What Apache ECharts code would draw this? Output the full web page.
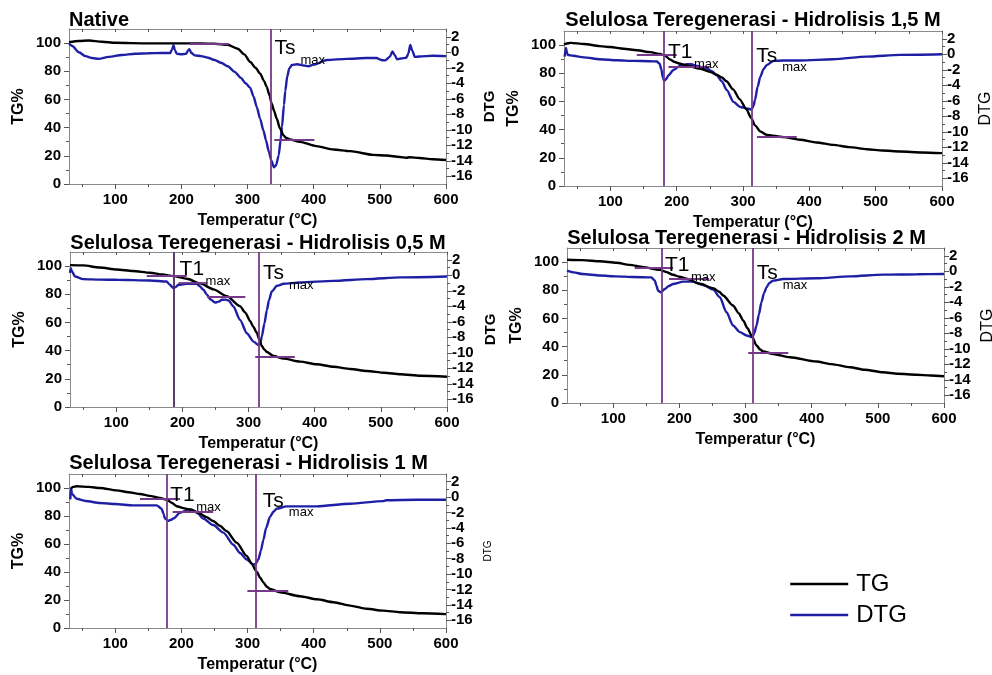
<!DOCTYPE html>
<html>
<head>
<meta charset="utf-8">
<script src="https://cdn.jsdelivr.net/npm/echarts@6/dist/echarts.min.js"></script>
<style>
  html, body { margin: 0; padding: 0; background: #fff; }
  #chart { width: 992px; height: 675px; }
</style>
</head>
<body>
<div id="chart"></div>
<script>
// ---------- Native cellulose ----------
const nativeTemp = [30, 45, 60, 80, 100, 150, 200, 230, 250, 270, 285, 295, 304, 312, 319, 325, 329, 333, 336.4, 340, 344, 349, 354, 358, 364, 379, 404, 430, 455, 490, 510, 530, 540, 545, 560, 580, 600];
const nativeTG = [100.7, 101.5, 101.8, 101, 100.2, 99.8, 99.8, 99.8, 99.5, 98.8, 96, 92, 86.6, 82.5, 78.3, 73, 68.9, 63, 57.1, 52, 46.5, 39.4, 34.7, 32.8, 31.6, 29.9, 26.9, 24.5, 23.3, 20.7, 20.2, 19.2, 18.6, 19, 18.4, 17.6, 17];
const nativeDtgTemp = [30, 35, 45, 55, 65, 75, 90, 110, 130, 150, 170, 183, 186, 188, 190, 193, 200, 207, 210, 212, 215, 220, 230, 240, 250, 260, 270, 280, 290, 297, 304, 309, 314, 319, 324, 328, 332, 336, 340, 343, 347, 350, 352, 355, 357, 360, 363, 367, 375, 385, 392, 400, 420, 450, 480, 495, 502, 508, 515, 519, 522, 526, 532, 540, 543, 546, 549, 553, 560, 580, 600];
const nativeDTG = [1.1, 0.8, 0.0, -0.5, -0.75, -0.85, -0.6, -0.35, -0.2, -0.12, -0.1, -0.1, 0.4, 0.9, 0.3, -0.2, -0.25, -0.2, 0.2, 0.4, -0.1, -0.4, -0.5, -0.7, -1.0, -1.35, -1.8, -2.5, -3.3, -4.0, -4.6, -5.7, -7.1, -8.6, -10.1, -11.4, -12.8, -14.0, -14.85, -14.6, -13.3, -11.3, -9.6, -6.8, -5.0, -3.1, -2.1, -1.65, -1.55, -1.7, -1.8, -1.6, -1.0, -0.85, -0.75, -0.75, -1.0, -1.05, -0.6, 0.1, -0.3, -0.9, -0.8, -0.7, -0.2, 0.95, 0.2, -0.6, -0.55, -0.45, -0.5];
const nativePeaks = [{ name: 'Ts', temp: 335.2 }];
const nativeTangents = [[213, 272, 99.8], [340.5, 401, 31.1]];

// ---------- Regenerated, hydrolysis 1,5 M ----------
const h15Temp = [30, 33, 40, 60, 84, 100, 120, 140, 160, 175, 182, 190, 197, 205, 215, 235, 250, 260, 268, 275, 285, 295, 305, 312, 318, 326, 336, 361, 386, 411, 436, 460, 487, 510, 537, 570, 600];
const h15TG = [100.5, 101, 101.6, 100.8, 99.3, 98.6, 97.4, 96.3, 95, 93.7, 92.6, 89.8, 88, 86.8, 85.5, 83.4, 81, 79, 77, 74.3, 68.6, 61.5, 54.5, 48.5, 43, 38.7, 36.3, 34.7, 32.8, 30.9, 29.2, 27.6, 26.1, 25.2, 24.5, 23.8, 23.3];
const h15DtgTemp = [31, 33, 34.5, 36, 44, 60, 84, 110, 135, 160, 170, 174, 177, 179, 181, 184, 188, 195, 205, 215, 222, 230, 245, 253, 260, 268, 275.5, 285.5, 295.6, 305.7, 313, 316, 318, 322, 326, 331, 336, 346, 361, 386, 436, 487, 537, 600];
const h15DTG = [-0.3, 0.8, 0.2, -0.1, -0.2, -0.4, -0.64, -0.78, -0.86, -0.9, -0.94, -1.2, -2.0, -3.0, -3.45, -3.2, -2.68, -2.03, -1.5, -1.29, -1.3, -1.5, -1.81, -2.2, -2.68, -3.5, -4.62, -6.14, -6.8, -7.0, -7.13, -6.6, -5.9, -4.2, -2.9, -1.9, -1.38, -0.86, -0.81, -0.81, -0.64, -0.3, -0.08, 0];
const h15Peaks = [{ name: 'T1', temp: 180 }, { name: 'Ts', temp: 313.2 }];
const h15Tangents = [[139.7, 200, 93.3], [187.5, 249, 84.3], [321, 381, 35.2]];

// ---------- Regenerated, hydrolysis 0,5 M ----------
const h05Temp = [30, 50, 75, 100.6, 125, 151, 170, 186.4, 206.6, 226.8, 247, 267, 287, 295, 302.4, 307, 312.5, 316, 320, 324, 327.7, 337.8, 353, 378, 403, 428.6, 454, 479, 505, 529.5, 560, 600];
const h05TG = [100.7, 100.5, 99, 97.6, 96.5, 95.3, 94, 92.9, 91, 87.7, 83.5, 78.7, 71.6, 67, 61, 57, 52.7, 48, 43.3, 40.7, 39, 36.2, 34.3, 32.2, 30.3, 28.6, 27, 25.5, 24.3, 23.2, 22.2, 21.5];
const h05DtgTemp = [30, 31, 33, 37.6, 50, 75, 100.6, 151, 176, 181, 186.4, 190, 194, 206.6, 221.7, 226, 231.8, 237, 242, 249.5, 255, 259.6, 265, 270, 277, 287, 297.4, 307.5, 315, 318, 320, 324, 327.7, 331, 335, 343, 353, 378, 428.6, 479, 529.5, 600];
const h05DTG = [0.3, 0.9, 0.5, -0.16, -0.5, -0.57, -0.59, -0.67, -0.8, -1.23, -1.66, -1.5, -1.23, -1.1, -1.1, -1.4, -1.88, -2.5, -3.09, -3.52, -3.4, -3.17, -3.15, -3.26, -4.03, -5.76, -7.48, -8.56, -9.0, -8.7, -7.9, -6.2, -4.47, -3.2, -2.1, -1.36, -1.1, -0.93, -0.72, -0.5, -0.28, -0.16];
const h05Peaks = [{ name: 'T1', temp: 187.4 }, { name: 'Ts', temp: 315 }];
const h05Tangents = [[146, 206.6, 93.4], [194, 237, 88.2], [237, 295, 78.3], [310, 370, 35.5]];

// ---------- Regenerated, hydrolysis 2 M ----------
const h2Temp = [30, 54, 80, 104.7, 125, 145, 170, 180, 190.4, 200, 210.6, 230.8, 251, 260, 266, 281, 290, 296.4, 303, 309, 316.6, 322, 326.7, 341.8, 367, 407, 430, 458, 480, 508, 530, 559, 580, 600];
const h2TG = [101.7, 101.4, 100.6, 99.5, 98, 96.4, 94.5, 93, 91, 89.6, 88.2, 84.6, 81.5, 79, 76.3, 69.2, 63.5, 58.5, 53, 47.9, 40.8, 38, 36.5, 34.8, 32.5, 29.4, 27.6, 25.4, 23.6, 21.8, 20.8, 20.1, 19.5, 19];
const h2DtgTemp = [30, 40, 54, 80, 104.7, 130, 157.6, 162.7, 165, 167.7, 171.8, 177.8, 184, 190.4, 205.6, 220.7, 235.9, 251, 261, 271.2, 281, 291.4, 301.4, 310.5, 313, 316.6, 320, 324, 328, 331.7, 336, 341.8, 357, 407, 458, 508, 560, 600];
const h2DTG = [0.07, -0.15, -0.36, -0.55, -0.66, -0.74, -0.79, -1.2, -1.8, -2.5, -2.71, -2.29, -1.9, -1.64, -1.34, -1.34, -1.77, -2.37, -3.36, -5.29, -7.0, -7.86, -8.29, -8.5, -8.0, -7.0, -5.6, -4.0, -2.8, -2.07, -1.5, -1.21, -1.0, -0.91, -0.66, -0.44, -0.38, -0.36];
const h2Peaks = [{ name: 'T1', temp: 172.8 }, { name: 'Ts', temp: 310.5 }];
const h2Tangents = [[132.4, 190.4, 95.7], [184.4, 245, 88.2], [304, 364.5, 36]];

// ---------- Regenerated, hydrolysis 1 M ----------
const h1Temp = [33, 36, 41.6, 60, 77, 102, 120, 137.4, 152, 167.6, 177.7, 185, 192.8, 203, 213, 228, 238, 248, 258, 268, 283.5, 298.7, 306, 313.8, 319, 323.9, 329, 334, 349, 379.3, 405, 430, 455, 480, 505, 530.5, 565, 600];
const h1TG = [99.5, 100.8, 101.2, 100.8, 100, 98.3, 97, 95.7, 94.4, 92.9, 91.7, 89.5, 87, 85.6, 84.6, 81.6, 79.2, 76.4, 73, 69.3, 61, 51.5, 46, 40.2, 36, 32.6, 29.5, 27.9, 25.5, 22.7, 20.5, 18.4, 16, 13.7, 12.4, 11.3, 10.5, 9.9];
const h1DtgTemp = [32, 33, 34.5, 41.6, 55, 77, 100, 127, 162.6, 170, 173, 175, 180, 184, 187.8, 197.8, 210, 215, 223, 233, 248, 263.4, 278.5, 288.6, 298.7, 308.7, 312, 316.3, 320, 323.9, 328, 334, 339, 344, 359, 404.5, 455, 505, 510, 555.7, 600];
const h1DTG = [-0.3, 1.2, 0.42, -0.22, -0.5, -0.77, -0.9, -1.07, -1.07, -1.5, -2.2, -2.78, -3.08, -2.95, -2.78, -2.05, -1.63, -1.65, -1.92, -2.78, -3.63, -4.61, -6.19, -7.26, -8.1, -8.75, -8.7, -8.1, -7.0, -5.55, -4.0, -2.56, -1.9, -1.5, -1.2, -1.2, -0.86, -0.52, -0.4, -0.35, -0.35];
const h1Peaks = [{ name: 'T1', temp: 177.7 }, { name: 'Ts', temp: 312.3 }];
const h1Tangents = [[137.4, 197.8, 92.4], [186.8, 248, 82.7], [299.7, 361.6, 26.7]];

// ---------- Axis ticks ----------
const tempTicks = [100, 200, 300, 400, 500, 600];
const tempMinorTicks = [50, 150, 250, 350, 450, 550];
const tgTicks = [0, 20, 40, 60, 80, 100];
const tgMinorTicks = [10, 30, 50, 70, 90];
const dtgTicks = [-16, -14, -12, -10, -8, -6, -4, -2, 0, 2];
const dtgMinorTicks = [-15, -13, -11, -9, -7, -5, -3, -1, 1];

// ---------- Styles ----------
const FONT = 'Liberation Sans, Arial, Helvetica, sans-serif';
const AXIS_GRAY = '#8a8a8a';
const TICK_COLOR = '#555';
const TG_COLOR = '#000000';
const DTG_COLOR = '#1f1fa6';
const MARK_COLOR = '#76398a';

const panels = [
  { title: 'Native', tgT: nativeTemp, tg: nativeTG, dtgT: nativeDtgTemp, dtg: nativeDTG,
    peaks: nativePeaks, tangents: nativeTangents,
    labelAt: { Ts: [341.5, 91.3] },
    grid: { left: 69, top: 29, width: 377, height: 155 },
    titlePos: [69, 20], titleAlign: 'left',
    dtgName: { fontWeight: 'bold', fontSize: 15 }, dtgGap: 36 },
  { title: 'Selulosa Teregenerasi - Hidrolisis 1,5 M', tgT: h15Temp, tg: h15TG, dtgT: h15DtgTemp, dtg: h15DTG,
    peaks: h15Peaks, tangents: h15Tangents,
    labelAt: { T1: [187.4, 89.8], Ts: [320.7, 87.4] },
    grid: { left: 564, top: 31, width: 378, height: 155 },
    titlePos: [753, 20], titleAlign: 'center',
    dtgName: { fontWeight: 'normal', fontSize: 16 }, dtgGap: 36 },
  { title: 'Selulosa Teregenerasi - Hidrolisis 0,5 M', tgT: h05Temp, tg: h05TG, dtgT: h05DtgTemp, dtg: h05DTG,
    peaks: h05Peaks, tangents: h05Tangents,
    labelAt: { T1: [196.5, 92.9], Ts: [322.6, 90.1] },
    peakColors: { T1: '#4a2a5c' },
    grid: { left: 70, top: 252, width: 377, height: 155 },
    titlePos: [258, 243], titleAlign: 'center',
    dtgName: { fontWeight: 'bold', fontSize: 15 }, dtgGap: 36 },
  { title: 'Selulosa Teregenerasi - Hidrolisis 2 M', tgT: h2Temp, tg: h2TG, dtgT: h2DtgTemp, dtg: h2DTG,
    peaks: h2Peaks, tangents: h2Tangents,
    labelAt: { T1: [178.8, 92.9], Ts: [317.6, 87] },
    grid: { left: 567, top: 248, width: 377, height: 155 },
    titlePos: [746.5, 238], titleAlign: 'center',
    dtgName: { fontWeight: 'normal', fontSize: 16 }, dtgGap: 36 },
  { title: 'Selulosa Teregenerasi - Hidrolisis 1 M', tgT: h1Temp, tg: h1TG, dtgT: h1DtgTemp, dtg: h1DTG,
    peaks: h1Peaks, tangents: h1Tangents,
    labelAt: { T1: [183.7, 89.8], Ts: [323.8, 85.8] },
    grid: { left: 69, top: 474, width: 377, height: 154 },
    titlePos: [248.5, 463], titleAlign: 'center',
    dtgName: { fontWeight: 'normal', fontSize: 10 }, dtgGap: 37 }
];

const zip = (xs, ys) => xs.map((x, i) => [x, ys[i]]);
const boldLabel = { color: '#000', fontFamily: FONT, fontWeight: 'bold', fontSize: 15 };

const grid = [], xAxis = [], yAxis = [], series = [], graphic = [];

panels.forEach((p, gi) => {
  grid.push(Object.assign({ containLabel: false, outerBoundsMode: 'none' }, p.grid));
  const xb = xAxis.length, yb = yAxis.length;

  // temperature axes: labelled bottom, minor ticks bottom, framed top
  xAxis.push(
    { gridIndex: gi, type: 'value', position: 'bottom', min: 30, max: 600,
      axisLine: { show: true, onZero: false, lineStyle: { color: AXIS_GRAY, width: 1 } },
      axisTick: { show: true, customValues: tempTicks, length: 5, lineStyle: { color: TICK_COLOR } },
      axisLabel: Object.assign({ customValues: tempTicks, margin: 8 }, boldLabel),
      splitLine: { show: false },
      name: 'Temperatur (°C)', nameLocation: 'middle', nameGap: 29,
      nameTextStyle: { color: '#000', fontFamily: FONT, fontWeight: 'bold', fontSize: 16 } },
    { gridIndex: gi, type: 'value', position: 'bottom', min: 30, max: 600,
      axisLine: { show: false, onZero: false },
      axisTick: { show: true, customValues: tempMinorTicks, length: 3, lineStyle: { color: TICK_COLOR } },
      axisLabel: { show: false }, splitLine: { show: false } },
    { gridIndex: gi, type: 'value', position: 'top', min: 30, max: 600,
      axisLine: { show: true, onZero: false, lineStyle: { color: AXIS_GRAY, width: 1 } },
      axisTick: { show: true, inside: true, customValues: tempTicks.concat(tempMinorTicks), length: 3, lineStyle: { color: TICK_COLOR } },
      axisLabel: { show: false }, splitLine: { show: false } }
  );

  // TG (left) and DTG (right) axes with their minor ticks
  yAxis.push(
    { gridIndex: gi, type: 'value', position: 'left', min: 0, max: 110,
      axisLine: { show: true, onZero: false, lineStyle: { color: AXIS_GRAY, width: 1 } },
      axisTick: { show: true, customValues: tgTicks, length: 5, lineStyle: { color: TICK_COLOR } },
      axisLabel: Object.assign({ customValues: tgTicks, margin: 8 }, boldLabel),
      splitLine: { show: false },
      name: 'TG%', nameLocation: 'middle', nameGap: 42,
      nameTextStyle: { color: '#000', fontFamily: FONT, fontWeight: 'bold', fontSize: 16 } },
    { gridIndex: gi, type: 'value', position: 'left', min: 0, max: 110,
      axisLine: { show: false, onZero: false },
      axisTick: { show: true, customValues: tgMinorTicks, length: 3, lineStyle: { color: TICK_COLOR } },
      axisLabel: { show: false }, splitLine: { show: false } },
    { gridIndex: gi, type: 'value', position: 'right', min: -17, max: 3,
      axisLine: { show: true, onZero: false, lineStyle: { color: AXIS_GRAY, width: 1 } },
      axisTick: { show: true, customValues: dtgTicks, length: 5, lineStyle: { color: TICK_COLOR } },
      axisLabel: Object.assign({ customValues: dtgTicks, margin: 5 }, boldLabel),
      splitLine: { show: false },
      name: 'DTG', nameLocation: 'middle', nameGap: p.dtgGap,
      nameTextStyle: Object.assign({ color: '#000', fontFamily: FONT }, p.dtgName) },
    { gridIndex: gi, type: 'value', position: 'right', min: -17, max: 3,
      axisLine: { show: false, onZero: false },
      axisTick: { show: true, customValues: dtgMinorTicks, length: 3, lineStyle: { color: TICK_COLOR } },
      axisLabel: { show: false }, splitLine: { show: false } }
  );

  // peak-temperature labels: main symbol plus "max" subscript
  const labels = [];
  p.peaks.forEach(k => {
    const at = p.labelAt[k.name];
    labels.push({ coord: at, label: { show: true, formatter: k.name, position: [0, 0], offset: [0, 4],
      align: 'left', verticalAlign: 'bottom', color: '#000', fontFamily: FONT, fontSize: 21 } });
    labels.push({ coord: at, label: { show: true, formatter: 'max', position: [0, 0], offset: [26, 12],
      align: 'left', verticalAlign: 'bottom', color: '#000', fontFamily: FONT, fontSize: 13 } });
  });

  const peakColors = p.peakColors || {};
  series.push({
    type: 'line', name: 'TG', xAxisIndex: xb, yAxisIndex: yb,
    data: zip(p.tgT, p.tg), symbol: 'none', showSymbol: false,
    smooth: 0.25, smoothMonotone: 'x',
    lineStyle: { color: TG_COLOR, width: 2.4 }, itemStyle: { color: TG_COLOR }, z: 3,
    markLine: {
      silent: true, symbol: ['none', 'none'], animation: false,
      label: { show: false },
      lineStyle: { color: MARK_COLOR, width: 1.8, type: 'solid' },
      emphasis: { disabled: true },
      data: p.peaks.map(k => ({ xAxis: k.temp, lineStyle: { color: peakColors[k.name] || MARK_COLOR } }))
        .concat(p.tangents.map(t => [{ coord: [t[0], t[2]] }, { coord: [t[1], t[2]] }]))
    },
    markPoint: {
      silent: true, symbol: 'circle', symbolSize: 1, animation: false,
      itemStyle: { color: 'rgba(0,0,0,0)' },
      data: labels
    }
  }, {
    type: 'line', name: 'DTG', xAxisIndex: xb, yAxisIndex: yb + 2,
    data: zip(p.dtgT, p.dtg), symbol: 'none', showSymbol: false,
    smooth: 0.25, smoothMonotone: 'x',
    lineStyle: { color: DTG_COLOR, width: 2.4 }, itemStyle: { color: DTG_COLOR }, z: 2
  });

  graphic.push({
    type: 'text', x: p.titlePos[0], y: p.titlePos[1], silent: true,
    style: { text: p.title, fill: '#000', fontFamily: FONT, fontWeight: 'bold', fontSize: 20,
      align: p.titleAlign, verticalAlign: 'middle' }
  });
});

const chart = echarts.init(document.getElementById('chart'), null, { renderer: 'canvas' });
chart.setOption({
  animation: false,
  backgroundColor: '#fff',
  grid, xAxis, yAxis, series, graphic,
  legend: {
    data: ['TG', 'DTG'], orient: 'vertical', left: 789, top: 572, padding: 0,
    itemWidth: 58, itemHeight: 24, itemGap: 7, selectedMode: false,
    itemStyle: { opacity: 0 },
    lineStyle: { width: 2.4 },
    textStyle: { color: '#000', fontFamily: FONT, fontSize: 24, padding: [0, 0, 0, 3] }
  }
});
</script>
</body>
</html>
